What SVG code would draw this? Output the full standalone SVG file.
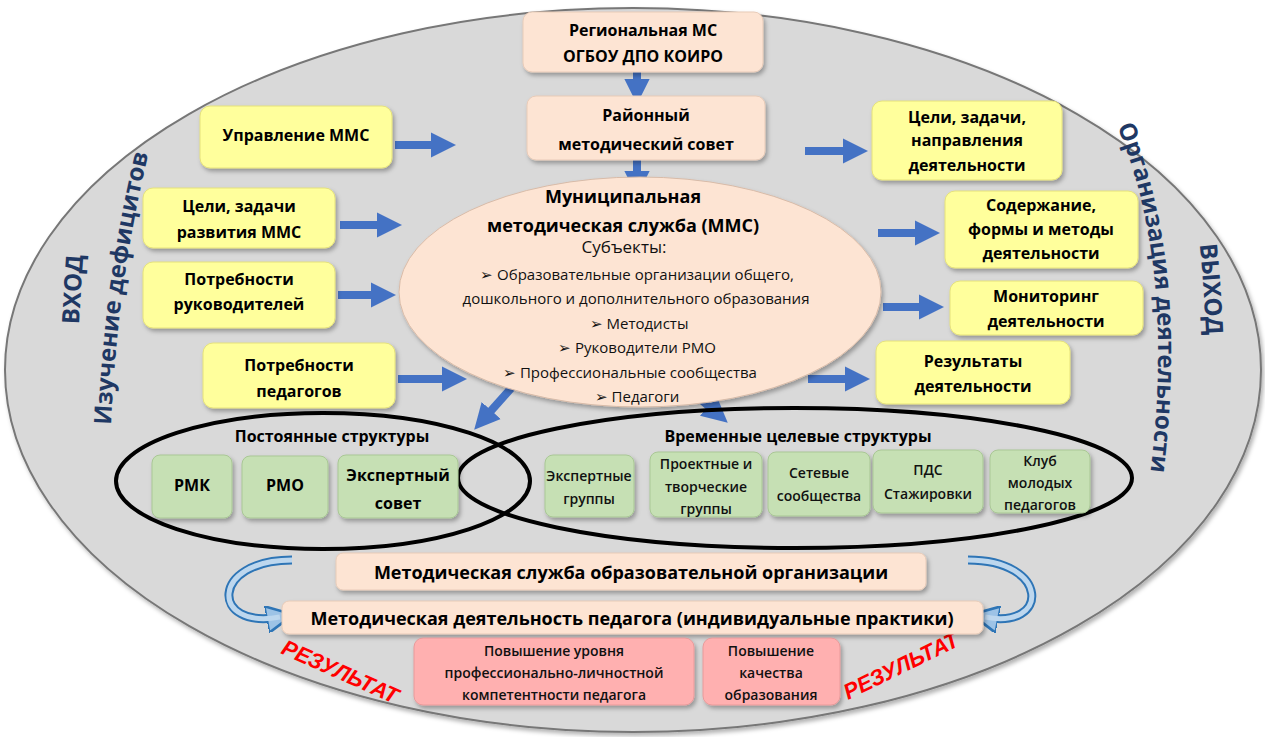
<svg xmlns="http://www.w3.org/2000/svg" width="1265" height="737" viewBox="0 0 1265 737">
<defs>
<style>
text{font-family:"Open Sans","Liberation Sans",sans-serif;}
.b{font-weight:bold;font-size:16px;fill:#000;text-anchor:middle}
.n{font-size:15px;fill:#111;text-anchor:middle}
.g{font-size:14px;fill:#111;text-anchor:middle;font-weight:600}
.peach{fill:#fde4d3;stroke:#e8cbb8;stroke-width:1}
.yel{fill:#ffff9c;stroke:#e6e27a;stroke-width:1}
.grn{fill:#c6e0b4;stroke:#a9c795;stroke-width:1}
.pink{fill:#ffb0b0;stroke:#e89a9a;stroke-width:1}
.arr{stroke:#4472c4;stroke-width:8;fill:none;marker-end:url(#ah)}
.side{font-weight:bold;fill:#1f3864;font-size:24px}
.res{font-weight:bold;font-style:italic;fill:#ff0000;font-size:22px;font-family:"Liberation Sans",sans-serif}
</style>
<marker id="ah" viewBox="0 0 10 10" refX="6" refY="5" markerWidth="3.2" markerHeight="3.4" orient="auto" markerUnits="strokeWidth"><path d="M0,0 L10,5 L0,10 z" fill="#4472c4"/></marker>
<marker id="ch" viewBox="0 0 10 10" refX="5" refY="5" markerWidth="3" markerHeight="3" orient="auto" markerUnits="strokeWidth"><path d="M0,0 L10,5 L0,10 z" fill="#9dc3e6" stroke="#2e75b6" stroke-width="1"/></marker>
<filter id="sh" x="-10%" y="-10%" width="130%" height="140%"><feDropShadow dx="2" dy="3" stdDeviation="2" flood-color="#000" flood-opacity="0.3"/></filter>
<path id="pl1" d="M 110,470 Q 112,280 160,110"/>
<path id="pl2" d="M 76,420 Q 78,290 92,160"/>
<path id="pr1" d="M 1110,110 Q 1180,260 1148,490"/>
<path id="pr2" d="M 1190,160 Q 1208,290 1208,420"/>
</defs>
<ellipse cx="633" cy="370" rx="628" ry="362" fill="#d9d9d9" stroke="#777" stroke-width="2" filter="url(#sh)"/>
<g id="labels-side">
<text class="side"><textPath href="#pl2" startOffset="50%" text-anchor="middle">ВХОД</textPath></text>
<text class="side"><textPath href="#pl1" startOffset="50%" text-anchor="middle">Изучение дефицитов</textPath></text>
<text class="side"><textPath href="#pr1" startOffset="50%" text-anchor="middle">Организация деятельности</textPath></text>
<text class="side"><textPath href="#pr2" startOffset="50%" text-anchor="middle">ВЫХОД</textPath></text>
<text class="res" transform="translate(280,653) rotate(24)">РЕЗУЛЬТАТ</text>
<text class="res" transform="translate(848,700) rotate(-26)">РЕЗУЛЬТАТ</text>
</g>
<g id="connectors">
<line class="arr" x1="637" y1="66" x2="637" y2="94"/>
<line class="arr" x1="637" y1="158" x2="637" y2="186"/>
<line class="arr" x1="395" y1="145" x2="446" y2="145"/>
<line class="arr" x1="340" y1="225" x2="392" y2="225"/>
<line class="arr" x1="338" y1="295" x2="386" y2="295"/>
<line class="arr" x1="398" y1="379" x2="457" y2="379"/>
<line class="arr" x1="805" y1="151" x2="858" y2="151"/>
<line class="arr" x1="878" y1="233" x2="930" y2="233"/>
<line class="arr" x1="883" y1="307" x2="934" y2="307"/>
<line class="arr" x1="808" y1="379" x2="860" y2="379"/>
<line class="arr" x1="514" y1="385" x2="481" y2="422"/>
<line class="arr" x1="684" y1="385" x2="720" y2="416"/>
<path d="M 292,560 C 210,560 210,630 280,617" stroke="#2e75b6" stroke-width="9" fill="none" marker-end="url(#ch)"/>
<path d="M 292,560 C 210,560 210,630 280,617" stroke="#bdd7ee" stroke-width="5" fill="none"/>
<path d="M 968,560 C 1050,560 1050,630 985,617" stroke="#2e75b6" stroke-width="9" fill="none" marker-end="url(#ch)"/>
<path d="M 968,560 C 1050,560 1050,630 985,617" stroke="#bdd7ee" stroke-width="5" fill="none"/>
</g>
<g id="n-reg"><rect class="peach" x="523" y="12" width="240" height="60" rx="9" filter="url(#sh)"/><text class="b" x="643" y="36">Региональная МС</text><text class="b" x="643" y="62">ОГБОУ ДПО КОИРО</text></g>
<g id="n-rms"><rect class="peach" x="527" y="96" width="238" height="64" rx="9" filter="url(#sh)"/><text class="b" x="646" y="121">Районный</text><text class="b" x="646" y="150">методический совет</text></g>
<g id="n-upr"><rect class="yel" x="200" y="106" width="192" height="62" rx="10" filter="url(#sh)"/><text class="b" x="296" y="141">Управление ММС</text></g>
<g id="n-cel"><rect class="yel" x="143" y="188" width="192" height="60" rx="10" filter="url(#sh)"/><text class="b" x="239" y="212">Цели, задачи</text><text class="b" x="239" y="238">развития ММС</text></g>
<g id="n-pr"><rect class="yel" x="143" y="262" width="192" height="66" rx="10" filter="url(#sh)"/><text class="b" x="239" y="285">Потребности</text><text class="b" x="239" y="310">руководителей</text></g>
<g id="n-pp"><rect class="yel" x="203" y="343" width="192" height="65" rx="10" filter="url(#sh)"/><text class="b" x="299" y="371">Потребности</text><text class="b" x="299" y="397">педагогов</text></g>
<g id="n-cz"><rect class="yel" x="872" y="101" width="190" height="79" rx="10" filter="url(#sh)"/><text class="b" x="967" y="123">Цели, задачи,</text><text class="b" x="967" y="146">направления</text><text class="b" x="967" y="171">деятельности</text></g>
<g id="n-sod"><rect class="yel" x="945" y="191" width="193" height="77" rx="10" filter="url(#sh)"/><text class="b" x="1041" y="211">Содержание,</text><text class="b" x="1041" y="235">формы и методы</text><text class="b" x="1041" y="259">деятельности</text></g>
<g id="n-mon"><rect class="yel" x="950" y="281" width="193" height="54" rx="10" filter="url(#sh)"/><text class="b" x="1046" y="302">Мониторинг</text><text class="b" x="1046" y="327">деятельности</text></g>
<g id="n-rez"><rect class="yel" x="876" y="341" width="194" height="63" rx="10" filter="url(#sh)"/><text class="b" x="973" y="367">Результаты</text><text class="b" x="973" y="392">деятельности</text></g>
<g id="n-mms"><ellipse cx="640" cy="292" rx="241" ry="115" fill="#fde4d3" stroke="#d8bba8" filter="url(#sh)"/>
<text class="b" x="623" y="203" style="font-size:18px">Муниципальная</text>
<text class="b" x="623" y="232" style="font-size:18px">методическая служба (ММС)</text>
<text class="n" x="624" y="253" style="font-size:17px">Субъекты:</text>
<text class="n" x="637" y="280">➢  Образовательные организации общего,</text>
<text class="n" x="636" y="304">дошкольного и дополнительного образования</text>
<text class="n" x="639" y="329">➢   Методисты</text>
<text class="n" x="637" y="353">➢   Руководители РМО</text>
<text class="n" x="630" y="378">➢   Профессиональные сообщества</text>
<text class="n" x="637" y="402">➢   Педагоги</text></g>
<g id="n-post"><ellipse cx="323" cy="481" rx="207" ry="68" fill="none" stroke="#000" stroke-width="4"/><text class="b" x="332" y="442">Постоянные структуры</text></g>
<g id="n-vrem"><ellipse cx="795" cy="478" rx="337" ry="70" fill="none" stroke="#000" stroke-width="4"/><text class="b" x="798" y="442">Временные целевые структуры</text></g>
<g id="n-rmk"><rect class="grn" x="152" y="455" width="80" height="63" rx="8" filter="url(#sh)"/><text class="b" x="192" y="491">РМК</text></g>
<g id="n-rmo"><rect class="grn" x="242" y="456" width="86" height="62" rx="8" filter="url(#sh)"/><text class="b" x="285" y="491">РМО</text></g>
<g id="n-eks"><rect class="grn" x="338" y="455" width="120" height="63" rx="8" filter="url(#sh)"/><text class="b" x="398" y="481">Экспертный</text><text class="b" x="398" y="509">совет</text></g>
<g id="n-eg"><rect class="grn" x="545" y="455" width="89" height="62" rx="8" filter="url(#sh)"/><text class="g" x="589" y="481">Экспертные</text><text class="g" x="589" y="504">группы</text></g>
<g id="n-pt"><rect class="grn" x="650" y="452" width="112" height="65" rx="8" filter="url(#sh)"/><text class="g" x="706" y="469">Проектные и</text><text class="g" x="706" y="492">творческие</text><text class="g" x="706" y="514">группы</text></g>
<g id="n-ss"><rect class="grn" x="768" y="452" width="102" height="64" rx="8" filter="url(#sh)"/><text class="g" x="819" y="478">Сетевые</text><text class="g" x="819" y="501">сообщества</text></g>
<g id="n-pds"><rect class="grn" x="873" y="450" width="110" height="63" rx="8" filter="url(#sh)"/><text class="g" x="928" y="475">ПДС</text><text class="g" x="928" y="499">Стажировки</text></g>
<g id="n-klub"><rect class="grn" x="990" y="450" width="100" height="63" rx="8" filter="url(#sh)"/><text class="g" x="1040" y="466">Клуб</text><text class="g" x="1040" y="488">молодых</text><text class="g" x="1040" y="510">педагогов</text></g>
<g id="n-msoo"><rect class="peach" x="336" y="553" width="590" height="37" rx="7" filter="url(#sh)"/><text class="b" x="631" y="579" style="font-size:18px">Методическая служба образовательной организации</text></g>
<g id="n-mdp"><rect class="peach" x="282" y="601" width="701" height="33" rx="7" filter="url(#sh)"/><text class="b" x="632" y="625" style="font-size:18px">Методическая деятельность педагога (индивидуальные практики)</text></g>
<g id="n-pov1"><rect class="pink" x="414" y="638" width="280" height="67" rx="9" filter="url(#sh)"/><text class="g" x="554" y="656">Повышение уровня</text><text class="g" x="554" y="678">профессионально-личностной</text><text class="g" x="554" y="700">компетентности педагога</text></g>
<g id="n-pov2"><rect class="pink" x="703" y="638" width="137" height="67" rx="9" filter="url(#sh)"/><text class="g" x="771" y="656">Повышение</text><text class="g" x="771" y="678">качества</text><text class="g" x="771" y="700">образования</text></g>
</svg>
